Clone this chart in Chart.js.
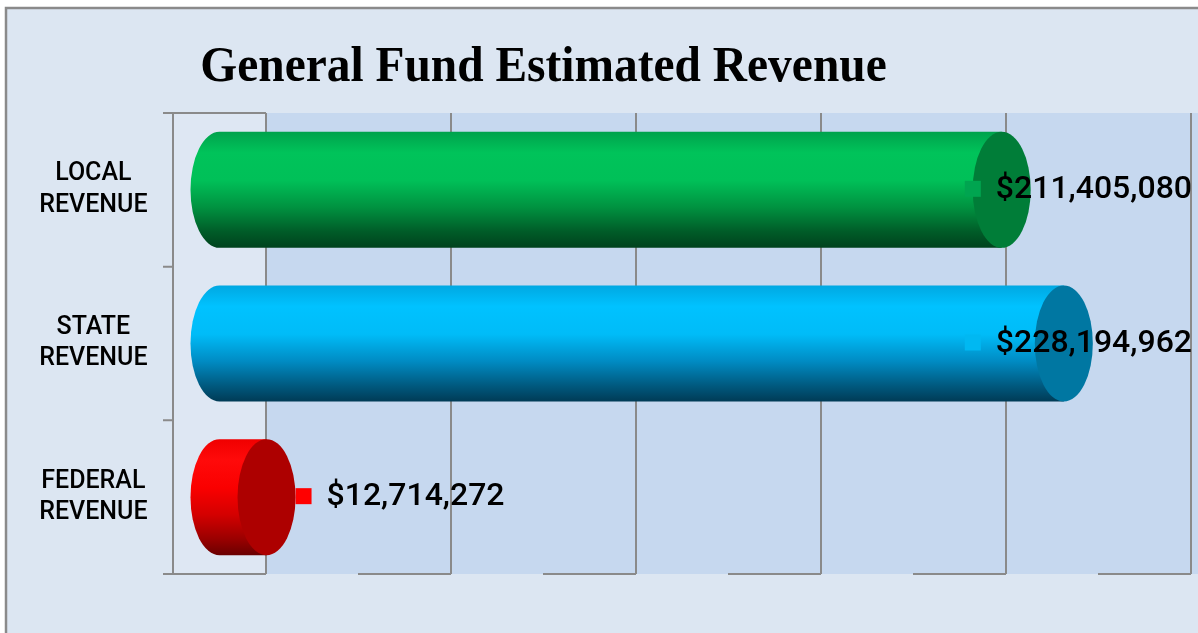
<!DOCTYPE html>
<html>
<head>
<meta charset="utf-8">
<title>General Fund Estimated Revenue</title>
<script src="https://cdn.jsdelivr.net/npm/chart.js@4/dist/chart.umd.min.js"></script>
<style>
  html, body { margin: 0; padding: 0; background: #fff; }
  #wrap { position: relative; width: 1198px; height: 633px; }
</style>
</head>
<body>
<div id="wrap"><canvas id="revenue"></canvas></div>
<script>
const chartTitle = 'General Fund Estimated Revenue';
const categories = [['LOCAL', 'REVENUE'], ['STATE', 'REVENUE'], ['FEDERAL', 'REVENUE']];
const revenue = [211405080, 228194962, 12714272];
const axisTicks = [0, 50000000, 100000000, 150000000, 200000000, 250000000];

// cylinder colours: body gradient (top -> bottom), end cap, legend key
const bodyStops = [
    ['#00a24c', '#00c35a', '#00c058', '#009240', '#005c28', '#00421d'],
    ['#00a8e2', '#00c2ff', '#00bcf8', '#008cc4', '#005a80', '#003b56'],
    ['#f00000', '#ff0a0a', '#fa0000', '#d40000', '#9a0000', '#6a0000']
];
const capColors = ['#007d38', '#0077a2', '#ad0000'];
const keyColors = ['#00a550', '#00b8f2', '#ff0000'];

const depth = 46.5;   // half the floor depth, px
const capRx = 29;     // horizontal radius of the cylinder ends

const fmt = v => '$' + v.toLocaleString('en-US');

const frame3d = {
    id: 'frame3d',
    beforeDraw(chart) {
        const { ctx, width, height, chartArea: a, scales: { x, y } } = chart;
        const back = v => x.getPixelForValue(v) + depth;
        const front = v => x.getPixelForValue(v) - depth;
        ctx.save();
        ctx.fillStyle = '#ffffff';
        ctx.fillRect(0, 0, width, height);
        // outer panel
        ctx.fillStyle = '#dce6f2';
        ctx.fillRect(6, 8, width, height);
        ctx.strokeStyle = '#8a8a8a';
        ctx.lineWidth = 2.5;
        ctx.beginPath();
        ctx.moveTo(6, height);
        ctx.lineTo(6, 8);
        ctx.lineTo(width, 8);
        ctx.stroke();

        // title
        ctx.fillStyle = '#000';
        ctx.font = 'bold 51px "Liberation Serif", "Times New Roman", serif';
        ctx.textAlign = 'center';
        ctx.textBaseline = 'alphabetic';
        ctx.translate(543.5, 81);
        ctx.scale(0.93, 1);
        ctx.fillText(chartTitle, 0, 0);
        ctx.setTransform(1, 0, 0, 1, 0, 0);

        // side wall and back wall
        ctx.fillStyle = '#dee7f3';
        ctx.fillRect(front(0), a.top, back(0) - front(0), a.bottom - a.top);
        ctx.fillStyle = '#c6d8ef';
        ctx.fillRect(back(0), a.top, width - back(0), a.bottom - a.top);

        ctx.strokeStyle = '#8a8a8a';
        ctx.lineWidth = 2;
        ctx.beginPath();
        axisTicks.forEach(v => {
            // wall gridline
            ctx.moveTo(back(v), a.top);
            ctx.lineTo(back(v), a.bottom);
            // floor line seen edge-on
            ctx.moveTo(front(v), a.bottom);
            ctx.lineTo(back(v), a.bottom);
        });
        // side wall outline and category ticks
        ctx.moveTo(front(0), a.top);
        ctx.lineTo(front(0), a.bottom);
        ctx.moveTo(front(0), a.top);
        ctx.lineTo(back(0), a.top);
        for (let i = 0; i <= categories.length; i++) {
            const py = y.getPixelForValue(i - 0.5);
            ctx.moveTo(front(0) - 10, py);
            ctx.lineTo(front(0), py);
        }
        ctx.stroke();
        ctx.restore();
    },
    afterDatasetsDraw(chart) {
        const { ctx, width } = chart;
        const meta = chart.getDatasetMeta(0);
        ctx.save();
        meta.data.forEach((bar, i) => {
            const { x: end, y: cy, base, height } = bar.getProps(['x', 'y', 'base', 'height'], true);
            const ry = height / 2;
            const top = cy - ry, bot = cy + ry;
            const g = ctx.createLinearGradient(0, top, 0, bot);
            const stops = bodyStops[i];
            const at = [0, 0.18, 0.42, 0.65, 0.86, 1];
            stops.forEach((c, k) => g.addColorStop(at[k], c));
            ctx.fillStyle = g;
            ctx.beginPath();
            ctx.moveTo(end, top);
            ctx.lineTo(base, top);
            ctx.ellipse(base, cy, capRx, ry, 0, -Math.PI / 2, Math.PI / 2, true);
            ctx.lineTo(end, bot);
            ctx.closePath();
            ctx.fill();
            // end cap
            ctx.fillStyle = capColors[i];
            ctx.beginPath();
            ctx.ellipse(end, cy, capRx, ry, 0, 0, Math.PI * 2);
            ctx.fill();

            // value label with its legend key, kept inside the panel
            const text = fmt(revenue[i]);
            ctx.font = '500 32px Roboto, "Liberation Sans", Arial, sans-serif';
            const tw = ctx.measureText(text).width;
            const tx = Math.min(end + capRx + 31, width - 6 - tw);
            ctx.fillStyle = keyColors[i];
            ctx.fillRect(tx - 31, cy - 9, 16, 16);
            ctx.fillStyle = '#000';
            ctx.textAlign = 'left';
            ctx.textBaseline = 'middle';
            ctx.fillText(text, tx, cy);
        });
        ctx.restore();
    }
};

new Chart(document.getElementById('revenue'), {
    type: 'bar',
    data: {
        labels: categories,
        datasets: [{
            label: 'Revenue',
            data: revenue,
            backgroundColor: 'rgba(0,0,0,0)',
            borderWidth: 0,
            barPercentage: 0.755,
            categoryPercentage: 1
        }]
    },
    options: {
        indexAxis: 'y',
        responsive: true,
        maintainAspectRatio: false,
        animation: false,
        events: [],
        layout: { padding: { top: 113, right: 53.5, bottom: 59, left: 0 } },
        plugins: {
            legend: { display: false },
            title: { display: false },
            tooltip: { enabled: false }
        },
        scales: {
            x: {
                display: false,
                min: 0,
                max: 250000000,
                ticks: { stepSize: 50000000 }
            },
            y: {
                grid: { display: false, drawTicks: false },
                border: { display: false },
                afterFit: s => {
                    s.width = 219.5;
                    // labels sit well inside their rows, no extra room needed
                    s.paddingTop = 0;
                    s.paddingBottom = 0;
                },
                ticks: {
                    crossAlign: 'center',
                    padding: 72,
                    color: '#000',
                    font: { family: 'Roboto, "Liberation Sans", Arial, sans-serif', size: 25, weight: '500', lineHeight: 1.25 }
                }
            }
        }
    },
    plugins: [frame3d]
});
</script>
</body>
</html>
